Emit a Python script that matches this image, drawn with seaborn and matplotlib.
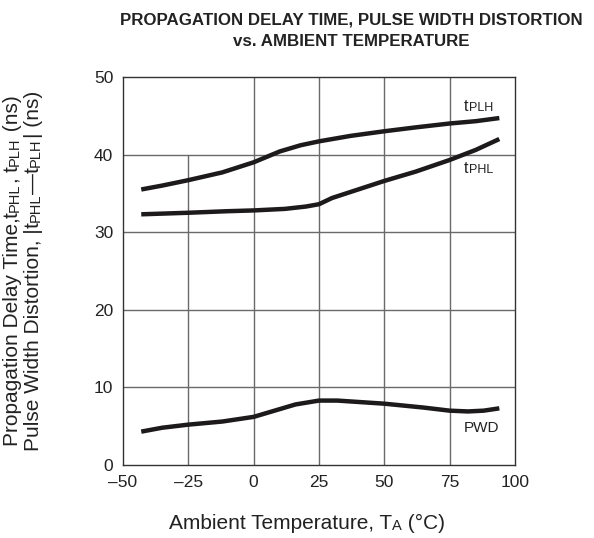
import numpy as np
import pandas as pd
import matplotlib
matplotlib.use("Agg")
import matplotlib.pyplot as plt
import seaborn as sns

# values
temp_plh = [-43, -35, -25, -12, 0, 10, 18, 25, 37, 50, 62, 75, 85, 94]
t_plh = [35.5, 36.0, 36.7, 37.7, 39.0, 40.4, 41.2, 41.7, 42.4, 43.0, 43.5, 44.0, 44.3, 44.7]

temp_phl = [-43, -25, -10, 0, 12, 20, 25, 30, 40, 50, 62, 75, 85, 94]
t_phl = [32.3, 32.5, 32.7, 32.8, 33.0, 33.3, 33.6, 34.4, 35.5, 36.6, 37.8, 39.3, 40.6, 42.0]

temp_pwd = [-43, -35, -25, -12, 0, 8, 16, 25, 32, 50, 65, 75, 82, 88, 94]
pwd = [4.3, 4.8, 5.2, 5.6, 6.2, 7.0, 7.8, 8.3, 8.3, 7.9, 7.4, 7.0, 6.9, 7.0, 7.3]

x_ticks = [-50, -25, 0, 25, 50, 75, 100]
y_ticks = [0, 10, 20, 30, 40, 50]

TXT = "#222222"

sns.set_theme(style="white")
plt.rcParams['font.family'] = ['Liberation Sans', 'DejaVu Sans']

fig = plt.figure(figsize=(5.94, 5.38), dpi=100)
ax = fig.add_axes([0.207, 0.1357, 0.66, 0.7213])


def chain(x, y, pieces, rotation=0, coords=None):
    # pieces: list of (text, size); each piece is glued to the end of the last
    coords = coords if coords is not None else fig.transFigure
    arts = []
    first, size = pieces[0]
    if rotation == 0:
        t = fig.text(x, y, first, fontsize=size, color=TXT, ha="left", va="baseline",
                     transform=coords)
    else:
        t = fig.text(x, y, first, fontsize=size, color=TXT, rotation=90,
                     ha="right", va="bottom", transform=coords)
    arts.append(t)
    for txt, size in pieces[1:]:
        if rotation == 0:
            a = fig.add_artist(matplotlib.text.Annotation(
                txt, xy=(1, 0), xycoords=arts[-1], fontsize=size, color=TXT,
                ha="left", va="bottom"))
        else:
            a = fig.add_artist(matplotlib.text.Annotation(
                txt, xy=(1, 1), xycoords=arts[-1], fontsize=size, color=TXT,
                rotation=90, ha="right", va="bottom"))
        arts.append(a)
    return arts


grid_c = "#6a6a6a"
for xv in [0, 25, 50, 75]:
    ax.axvline(xv, color=grid_c, lw=1.0, zorder=1)
ax.axvline(-25, ymax=0.8, color=grid_c, lw=1.0, zorder=1)
for yv in [10, 20, 30, 40]:
    ax.axhline(yv, color=grid_c, lw=1.0, zorder=1)

line_c = "#1c1a1b"
for xs, ys in [(temp_plh, t_plh), (temp_phl, t_phl), (temp_pwd, pwd)]:
    df = pd.DataFrame({"T": xs, "v": ys})
    sns.lineplot(data=df, x="T", y="v", ax=ax, color=line_c, lw=3.2,
                 solid_capstyle="butt", zorder=3)

ax.set_xlim(-50, 100)
ax.set_ylim(0, 50)
ax.set_xticks(x_ticks)
ax.set_yticks(y_ticks)
ax.set_xticklabels([str(v).replace("-", "\u2013") for v in x_ticks])
ax.tick_params(axis="both", length=0, labelsize=12.5, colors=TXT, pad=7)
ax.set_xlabel("")
ax.set_ylabel("")
for s in ax.spines.values():
    s.set_color("#333333")
    s.set_linewidth(1.0)

# curve labels
chain(80.5, 45.6, [("t", 11.5), ("PLH", 9)], coords=ax.transData)
chain(80.5, 37.6, [("t", 11.5), ("PHL", 9)], coords=ax.transData)
ax.text(80.5, 4.25, "PWD", fontsize=11, color=TXT, ha="left", va="baseline")

fig.text(351 / 594, 1 - 20 / 538, "PROPAGATION DELAY TIME, PULSE WIDTH DISTORTION",
         fontsize=12.15, fontweight="bold", ha="center", va="center", color=TXT)
fig.text(351 / 594, 1 - 42 / 538, "vs. AMBIENT TEMPERATURE",
         fontsize=12.15, fontweight="bold", ha="center", va="center", color=TXT)

big, small = 15, 10.5
xl = chain(0, 1 - 529 / 538, [("Ambient Temperature, T", big), ("A", small),
                             (" (\u00b0C)", big)])
yl1 = chain(22 / 594, 0, [("Propagation Delay Time,", big), ("t", big), ("PHL", small),
                          (", ", big), ("t", big), ("PLH", small), (" (ns)", big)],
            rotation=90)
yl2 = chain(43 / 594, 0, [("Pulse Width Distortion, |", big), ("t", big), ("PHL", small),
                          ("\u2014", big), ("t", big), ("PLH", small), ("| (ns)", big)],
            rotation=90)

# center the chained labels
fig.canvas.draw()
r = fig.canvas.get_renderer()
W, H = fig.bbox.width, fig.bbox.height
x0 = xl[0].get_window_extent(r).x0
x1 = xl[-1].get_window_extent(r).x1
xl[0].set_x((307 - (x1 - x0) / 2) / W)
for yl in (yl1, yl2):
    y0 = yl[0].get_window_extent(r).y0
    y1 = yl[-1].get_window_extent(r).y1
    yl[0].set_y((H - 271 - (y1 - y0) / 2) / H)

fig.savefig("out.png", dpi=100)
